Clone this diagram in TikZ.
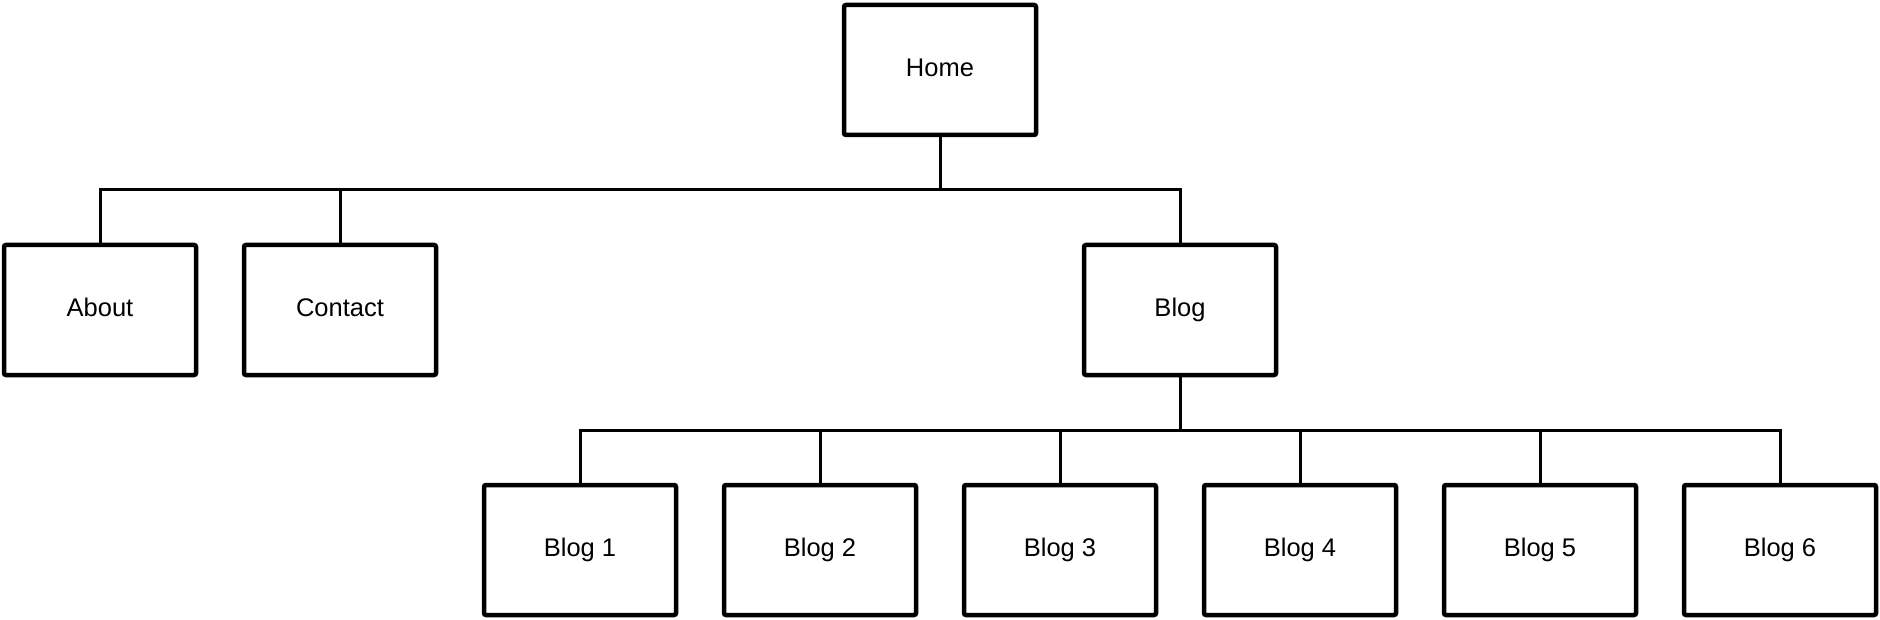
\documentclass[tikz,border=0pt]{standalone}
\usepackage{fontspec}
\setmainfont{Liberation Sans}
\begin{document}
\begin{tikzpicture}[x=1pt,y=1pt,
  pagebox/.style={draw=black, line width=4.5pt, rounded corners=2pt, fill=white,
    minimum width=192pt, minimum height=130pt, inner sep=0pt,
    text height=18pt, text depth=5pt,
    font=\fontsize{25.5}{30}\selectfont},
  link/.style={draw=black, line width=3pt}]
\useasboundingbox (0,0) rectangle (1880,-620);
\node[pagebox] (home) at (940,-70) {Home};
\node[pagebox] (about) at (100,-310) {About};
\node[pagebox] (contact) at (340,-310) {Contact};
\node[pagebox] (blog) at (1180,-310) {Blog};
\foreach \i in {1,...,6}{
  \node[pagebox] (blog\i) at (340+240*\i,-550) {Blog \i};
}
\coordinate (bus1) at (940,-190);
\coordinate (bus2) at (1180,-430);
\draw[link] (home.south) -- (bus1);
\draw[link] (about.north) |- (bus1) -| (blog.north);
\draw[link] (contact.north) -- (contact.north |- bus1);
\draw[link] (blog.south) -- (bus2);
\draw[link] (blog1.north) |- (bus2) -| (blog6.north);
\foreach \i in {2,...,5}{
  \draw[link] (blog\i.north) -- (blog\i.north |- bus2);
}
\end{tikzpicture}
\end{document}
